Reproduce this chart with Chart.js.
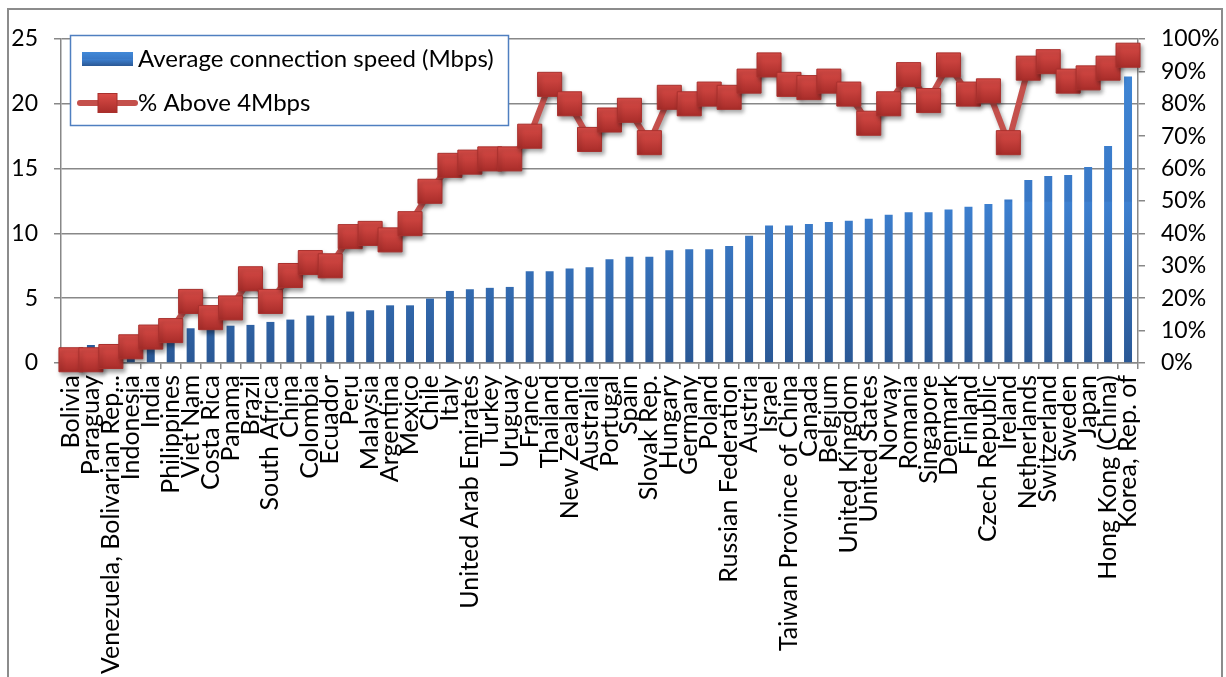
<!DOCTYPE html>
<html>
<head>
<meta charset="utf-8">
<script src="https://cdn.jsdelivr.net/npm/chart.js@4.4.1/dist/chart.umd.min.js"></script>
<style>
  html, body { margin: 0; padding: 0; background: #fff; }
  #wrap { width: 1226px; height: 677px; position: relative; }
</style>
</head>
<body>
<div id="wrap"><canvas id="c" width="1226" height="677"></canvas></div>
<script>
const categories = ["Bolivia","Paraguay","Venezuela, Bolivarian Rep...","Indonesia","India","Philippines","Viet Nam","Costa Rica","Panama","Brazil","South Africa","China","Colombia","Ecuador","Peru","Malaysia","Argentina","Mexico","Chile","Italy","United Arab Emirates","Turkey","Uruguay","France","Thailand","New Zealand","Australia","Portugal","Spain","Slovak Rep.","Hungary","Germany","Poland","Russian Federation","Austria","Israel","Taiwan Province of China","Canada","Belgium","United Kingdom","United States","Norway","Romania","Singapore","Denmark","Finland","Czech Republic","Ireland","Netherlands","Switzerland","Sweden","Japan","Hong Kong (China)","Korea, Rep. of"];

const avgSpeedMbps = [0.9,1.39,1.44,1.46,1.5,1.6,2.68,2.75,2.88,2.94,3.17,3.35,3.66,3.66,3.97,4.07,4.45,4.45,4.97,5.56,5.69,5.8,5.87,7.08,7.08,7.29,7.39,8.01,8.19,8.19,8.7,8.78,8.78,9.02,9.81,10.61,10.61,10.73,10.87,10.97,11.13,11.44,11.64,11.64,11.85,12.06,12.26,12.62,14.12,14.43,14.5,15.12,16.75,22.1];

const pctAbove4Mbps = [1,1,2,5,8,10,19,14,17,26,19,27,31,30,39,40,38,43,53,61,62,63,63,70,86,80,69,75,78,68,82,80,83,82,87,92,86,85,87,83,74,80,89,81,92,83,84,68,91,93,87,88,91,95];

const leftTicks = [0, 5, 10, 15, 20, 25];
const rightTicks = [0,10,20,30,40,50,60,70,80,90,100];

const seriesNames = ["Average connection speed (Mbps)", "% Above 4Mbps"];

const FONT = "Lato";
const FS = 23;
const FS_X = 25;
const FS_LEG = 24;
const GRID = "#888888";
const LINE_COLOR = "#c4504c";

function barGradient(ctx, top, bottom) {
  if (!Number.isFinite(top) || !Number.isFinite(bottom) || bottom <= top) return "#3a7bc9";
  const g = ctx.createLinearGradient(0, top, 0, bottom);
  g.addColorStop(0, "#4189d8");
  g.addColorStop(0.5, "#3978c6");
  g.addColorStop(0.505, "#3d80d0");
  g.addColorStop(1, "#2a5895");
  return g;
}
function markerGradient(ctx, y, h) {
  if (!Number.isFinite(y)) return "#c8403c";
  const g = ctx.createLinearGradient(0, y - h, 0, y + h);
  g.addColorStop(0, "#db4d48");
  g.addColorStop(1, "#a92d2a");
  return g;
}

const framePlugin = {
  id: "frame",
  beforeDraw(chart) {
    const c = chart.ctx;
    c.save();
    c.fillStyle = "#fff";
    c.fillRect(0, 0, chart.width, chart.height);
    c.strokeStyle = "#8c8c8c";
    c.lineWidth = 2;
    c.strokeRect(8, 9, 1214, 700);
    c.restore();
  }
};

const shadowPlugin = {
  id: "lineShadow",
  beforeDatasetDraw(chart, args) {
    if (args.index === 1) {
      const c = chart.ctx;
      c.save();
      c.shadowColor = "rgba(0,0,0,0.35)";
      c.shadowBlur = 4;
      c.shadowOffsetX = 2;
      c.shadowOffsetY = 3;
    }
  },
  afterDatasetDraw(chart, args) {
    if (args.index === 1) chart.ctx.restore();
  }
};

const legendPlugin = {
  id: "customLegend",
  afterDraw(chart) {
    const c = chart.ctx;
    c.save();
    c.fillStyle = "#fff";
    c.fillRect(70.5, 35.5, 438, 90);
    c.strokeStyle = "#4f7fc0";
    c.lineWidth = 1.5;
    c.strokeRect(70.5, 35.5, 438, 90);
    c.fillStyle = barGradient(c, 52, 66);
    c.fillRect(82, 52, 51, 14);
    c.fillStyle = "#000";
    c.font = FS_LEG + "px " + FONT;
    c.textBaseline = "middle";
    c.textAlign = "left";
    c.fillText(chart.data.datasets[0].label, 138, 59);
    c.strokeStyle = LINE_COLOR;
    c.lineWidth = 6;
    c.lineCap = "round";
    c.beginPath();
    c.moveTo(80, 103);
    c.lineTo(135, 103);
    c.stroke();
    c.fillStyle = markerGradient(c, 103, 9.5);
    c.fillRect(98, 93.5, 19, 19);
    c.strokeStyle = "#a8302d";
    c.lineWidth = 1;
    c.strokeRect(98, 93.5, 19, 19);
    c.fillStyle = "#000";
    c.fillText(chart.data.datasets[1].label, 138, 103);
    c.restore();
  }
};

function build() {
  Chart.defaults.color = "#000";
  Chart.defaults.font.family = FONT;
  Chart.defaults.font.size = FS;

  new Chart(document.getElementById("c"), {
    type: "bar",
    data: {
      labels: categories,
      datasets: [
        {
          type: "bar",
          label: seriesNames[0],
          data: avgSpeedMbps,
          yAxisID: "y",
          order: 2,
          categoryPercentage: 1,
          barPercentage: 0.4,
          backgroundColor: (ctx) => {
            const a = ctx.chart.chartArea;
            if (!a) return "#3a7bc9";
            return barGradient(ctx.chart.ctx, a.top, a.bottom);
          },
          borderWidth: 0
        },
        {
          type: "line",
          label: seriesNames[1],
          data: pctAbove4Mbps,
          yAxisID: "y1",
          order: 1,
          clip: false,
          borderColor: LINE_COLOR,
          borderWidth: 6,
          tension: 0,
          pointStyle: "rect",
          pointRadius: 17,
          pointBorderColor: "#a8302d",
          pointBorderWidth: 1,
          pointBackgroundColor: (ctx) => {
            const s = ctx.chart.scales.y1;
            if (!s || typeof ctx.raw !== "number") return "#c8403c";
            const y = s.getPixelForValue(ctx.raw);
            return markerGradient(ctx.chart.ctx, y, 12);
          }
        }
      ]
    },
    options: {
      responsive: false,
      animation: false,
      devicePixelRatio: 1,
      layout: { padding: { top: 39, left: 0, right: 0, bottom: 0 } },
      plugins: { legend: { display: false }, tooltip: { enabled: false } },
      scales: {
        x: {
          type: "category",
          offset: true,
          grid: { display: true, drawOnChartArea: false, drawTicks: true, tickLength: 6, color: GRID, lineWidth: 1.5, offset: true },
          border: { display: true, color: GRID, width: 1.5 },
          ticks: { autoSkip: false, minRotation: 90, maxRotation: 90, padding: 6, font: { size: FS_X, family: FONT } },
          afterFit(scale) { scale.height = 677 - 363; }
        },
        y: {
          position: "left",
          min: 0, max: 25,
          afterBuildTicks(scale) { scale.ticks = leftTicks.map(v => ({ value: v })); },
          grid: { drawOnChartArea: true, drawTicks: true, tickLength: 7, color: GRID, lineWidth: 1.5 },
          border: { display: true, color: GRID, width: 1.5 },
          ticks: { padding: 16, font: { size: FS, family: FONT } },
          afterFit(scale) { scale.width = 61; }
        },
        y1: {
          position: "right",
          min: 0, max: 100,
          afterBuildTicks(scale) { scale.ticks = rightTicks.map(v => ({ value: v })); },
          grid: { drawOnChartArea: false, drawTicks: true, tickLength: 7, color: GRID, lineWidth: 1.5 },
          border: { display: true, color: GRID, width: 1.5 },
          ticks: { padding: 16, font: { size: FS, family: FONT }, callback: (v) => v + "%" },
          afterFit(scale) { scale.width = 1226 - 1138; }
        }
      }
    },
    plugins: [framePlugin, shadowPlugin, legendPlugin]
  });
}

if (document.fonts && document.fonts.load) {
  Promise.all([
    document.fonts.load(FS + "px " + FONT),
    document.fonts.load(FS_X + "px " + FONT)
  ]).then(build, build);
} else {
  build();
}
</script>
</body>
</html>
